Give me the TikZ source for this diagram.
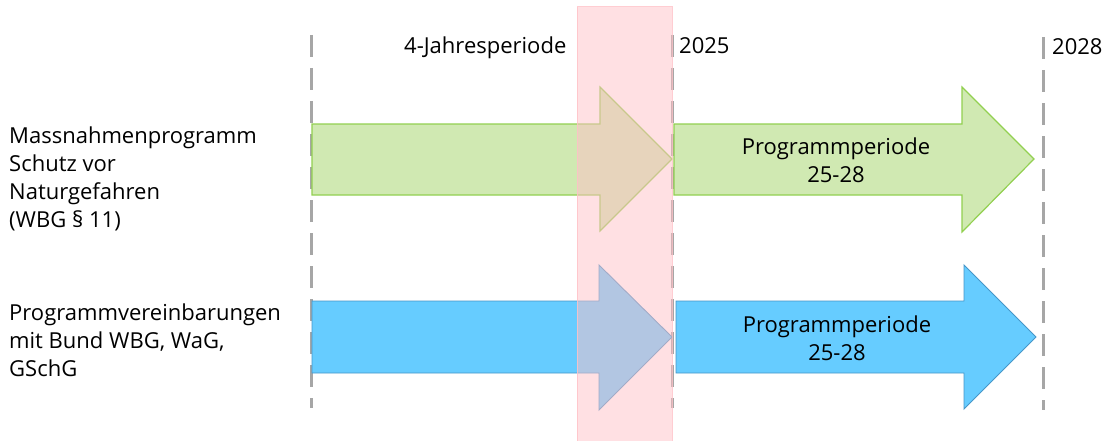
\documentclass[tikz,border=0pt]{standalone}
\usepackage{fontspec}
\setmainfont{Open Sans}
\definecolor{gfill}{RGB}{208,233,178}
\definecolor{gline}{RGB}{146,208,80}
\definecolor{bfill}{RGB}{102,204,255}
\definecolor{bline}{RGB}{70,150,200}
\definecolor{pinkc}{RGB}{255,193,199}
\definecolor{dashc}{RGB}{166,166,166}
\begin{document}
\begin{tikzpicture}[x=1pt,y=-1pt,
  txt/.style={inner sep=0pt,font=\fontsize{22}{26}\selectfont},
  garrow/.style={fill=gfill,draw=gline,line width=1.2pt,line join=miter},
  barrow/.style={fill=bfill,draw=bline,line width=0.9pt,line join=miter},
  guide/.style={draw=dashc,line width=3pt,dash pattern=on 22pt off 11pt}]
\useasboundingbox (0,0) rectangle (1107,441);
% guide lines
\coordinate (g1t) at (311,35); \coordinate (g1b) at (311,408);
\coordinate (g2t) at (672,35); \coordinate (g2b) at (672,408);
\coordinate (g3t) at (1043,37); \coordinate (g3b) at (1043,410);
\draw[guide] (g1t) -- (g1b);
\draw[guide] (g2t) -- (g2b);
\draw[guide] (g3t) -- (g3b);
% green arrows
\draw[garrow] (312,124) -- (600,124) -- (600,87) -- (672,159) -- (600,231) -- (600,195) -- (312,195) -- cycle;
\draw[garrow] (674,124) -- (962,124) -- (962,87) -- (1034,159) -- (962,232) -- (962,195) -- (674,195) -- cycle;
% blue arrows
\draw[barrow] (312,301) -- (599,301) -- (599,265) -- (672,337) -- (599,410) -- (599,373) -- (312,373) -- cycle;
\draw[barrow] (676,301) -- (964,301) -- (964,265) -- (1036,337) -- (964,409) -- (964,373) -- (676,373) -- cycle;
% pink band
\fill[pinkc,opacity=0.5] (577,7) rectangle (672,441);
\draw[pinkc,opacity=0.8,line width=1pt] (672,441) -- (672,7) -- (577,7) -- (577,441);
% labels
\node[txt,anchor=base west] (per) at (404,54) {4-Jahresperiode};
\node[txt,anchor=base west] (y25) at (679,54) {2025};
\node[txt,anchor=base west] (y28) at (1052,55) {2028};
\node[txt,anchor=base west] (m1) at (9,143) {Massnahmenprogramm};
\node[txt,anchor=base west] (m2) at (9,171.3) {Schutz vor};
\node[txt,anchor=base west] (m3) at (9,199.6) {Naturgefahren};
\node[txt,anchor=base west] (m4) at (9,227.9) {(WBG § 11)};
\node[txt,anchor=base west] (p1) at (9,320) {Programmvereinbarungen};
\node[txt,anchor=base west] (p2) at (9,348) {mit Bund WBG, WaG,};
\node[txt,anchor=base west] (p3) at (9,376) {GSchG};
\node[txt,anchor=base] (ga1) at (836,154) {Programmperiode};
\node[txt,anchor=base] (ga2) at (836,182) {25-28};
\node[txt,anchor=base] (ba1) at (837,332) {Programmperiode};
\node[txt,anchor=base] (ba2) at (837,360) {25-28};
\end{tikzpicture}
\end{document}
